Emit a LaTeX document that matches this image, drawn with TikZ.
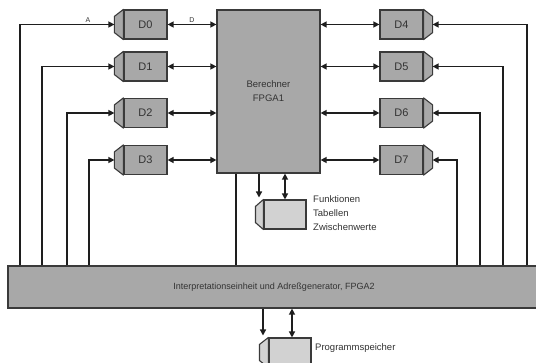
\documentclass[tikz,border=0pt]{standalone}
\usepackage{fontspec}
\setmainfont{Liberation Sans}
\usetikzlibrary{arrows.meta,calc}
\definecolor{boxgray}{HTML}{A8A8A8}
\definecolor{memgray}{HTML}{D2D2D2}
\definecolor{edge}{HTML}{3A3A3A}
\definecolor{ink}{HTML}{1E1E1E}
\definecolor{txt}{HTML}{333333}

\begin{document}
\begin{tikzpicture}[x=1pt,y=-1pt,
  tip/.tip={Triangle[length=6pt,width=6pt]},
  conn/.style={draw=ink,line width=1.3pt},
  thickconn/.style={draw=ink,line width=2.2pt},
  dbox/.style={draw=edge,fill=boxgray,line width=1.2pt,minimum width=43pt,
    minimum height=29pt,inner sep=0pt,text=txt,font=\fontsize{11}{12}\selectfont},
  membox/.style={draw=edge,fill=memgray,line width=1.1pt,minimum width=42pt,
    minimum height=29pt,inner sep=0pt},
  chamf/.style={draw=edge,line width=1.1pt,line join=round},
  bigbox/.style={draw=edge,fill=boxgray,line width=1.2pt,inner sep=0pt,
    text=txt,font=\fontsize{9.5}{14}\selectfont,align=center},
  note/.style={inner sep=0pt,anchor=west,text=txt,font=\fontsize{9.5}{11}\selectfont},
  lbl/.style={inner sep=1pt,text=txt,font=\fontsize{7}{8}\selectfont}]

\useasboundingbox (0,0) rectangle (536,363);
\fill[white] (0,0) rectangle (536,363);
\clip (0,0) rectangle (536,363);

% central processor and the interpretation/address bus unit
\node[bigbox,minimum width=103pt,minimum height=163pt] (f1) at (268.5,91.5)
  {Berechner\\FPGA1};
\node[bigbox,minimum width=532pt,minimum height=42pt,
  font=\fontsize{9}{11}\selectfont] (bus) at (274,287)
  {Interpretationseinheit und Adreßgenerator, FPGA2};

% data units D0--D3 (left) and D4--D7 (right)
\foreach \i/\yy/\lx in {0/24.5/20, 1/66.5/42, 2/113/67, 3/160/89}{
  \node[dbox] (d\i) at (145.5,\yy) {D\i};
  \draw[chamf,fill=boxgray] (d\i.north west) -- ($(d\i.north west)+(-9,7)$)
    -- ($(d\i.south west)+(-9,-7)$) -- (d\i.south west) -- cycle;
  \coordinate (d\i c) at ($(d\i.west)+(-9,0)$);
  \coordinate (v\i) at (\lx,\yy);
}
\foreach \i/\yy/\lx in {4/24.5/527, 5/66.5/503, 6/113/480, 7/160/457}{
  \node[dbox] (d\i) at (401.5,\yy) {D\i};
  \draw[chamf,fill=boxgray] (d\i.north east) -- ($(d\i.north east)+(9,7)$)
    -- ($(d\i.south east)+(9,-7)$) -- (d\i.south east) -- cycle;
  \coordinate (d\i c) at ($(d\i.east)+(9,0)$);
  \coordinate (v\i) at (\lx,\yy);
}

% address lines from the bus unit to the data units
\draw[conn,-tip] (v0 |- bus.north) -- (v0) -- node[lbl,above,pos=0.72]{A} (d0c);
\foreach \i in {1,2,3,4,5,6,7}{
  \draw[conn,-tip] (v\i |- bus.north) -- (v\i) -- (d\i c);
}

% data lines between the data units and FPGA1
\draw[conn,tip-tip] (d0.east) -- node[lbl,above]{D} (d0.east -| f1.west);
\draw[conn,tip-tip] (d1.east) -- (d1.east -| f1.west);
\draw[conn,tip-tip] (d2.east) -- (d2.east -| f1.west);
\draw[thickconn,tip-tip] (d3.east) -- (d3.east -| f1.west);
\foreach \i in {4,5,6,7}{
  \draw[conn,tip-tip] (d\i.west -| f1.east) -- (d\i.west);
}

% function / table memory
\node[membox] (ftab) at (285,214.5) {};
\draw[chamf,fill=memgray] (ftab.north west) -- ($(ftab.north west)+(-8,7)$)
  -- ($(ftab.south west)+(-8,-7)$) -- (ftab.south west) -- cycle;
\node[note] (tf1) at (313,199) {Funktionen};
\node[note] (tf2) at (313,213) {Tabellen};
\node[note] (tf3) at (313,227) {Zwischenwerte};
\coordinate (fa) at (259,197.5);
\coordinate (fb) at (236,0);
\draw[conn] (fb |- f1.south) -- (fb |- bus.north);
\draw[conn,-tip] (fa |- f1.south) -- (fa);
\draw[conn,tip-tip] (ftab.north |- f1.south) -- (ftab.north);

% program memory
\node[membox] (prog) at (290,352.5) {};
\draw[chamf,fill=memgray] (prog.north west) -- ($(prog.north west)+(-9,7)$)
  -- ($(prog.south west)+(-9,-7)$) -- (prog.south west) -- cycle;
\node[note] (tp) at (315,348) {Programmspeicher};
\coordinate (pa) at (263,335.5);
\coordinate (pb) at (292,0);
\draw[conn,-tip] (pa |- bus.south) -- (pa);
\draw[conn,tip-tip] (pb |- bus.south) -- (pb |- prog.north);
\end{tikzpicture}
\end{document}
